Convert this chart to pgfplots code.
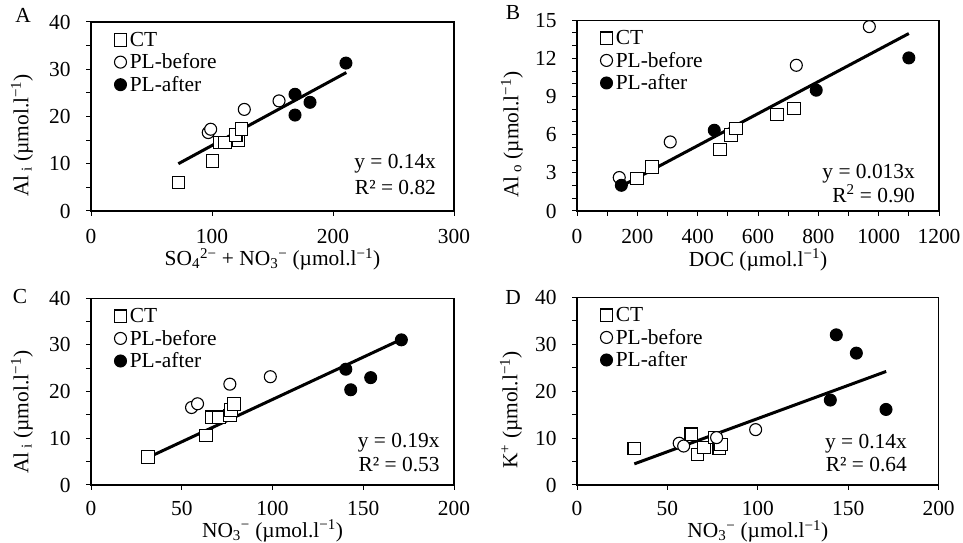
\documentclass[border=0pt]{standalone}
\usepackage{pgfplots}
\pgfplotsset{compat=1.18}
\usepackage{fontspec}
\setmainfont{Liberation Serif}
\newcommand{\fs}{\fontsize{21.5}{22}\selectfont}
\pgfplotsset{
  panel/.style={
    scale only axis, width=363bp, height=189bp,
    axis line style={line width=1.3bp, black},
    every tick/.style={black, line width=1bp},
    tick align=outside, xtick pos=bottom, ytick pos=left,
    major tick length=5bp, minor tick length=5bp,
    tick label style={font=\fs},
    yticklabel style={xshift=-12bp},
    xticklabel style={yshift=-10bp},
    label style={font=\fs},
    /pgf/number format/assume math mode=true,
    /pgf/number format/1000 sep={},
    legend style={draw=none, fill=none, at={(0.0,1.0)}, anchor=north west,
      font=\fs, row sep=2bp, column sep=2bp, inner xsep=23bp, inner ysep=8bp,
      nodes={inner xsep=1bp}},
    legend cell align=left,
    legend image code/.code={\draw[##1,/tikz/only marks] plot coordinates {(0bp,0bp)};},
    clip=false,
  },
  ct/.style={only marks, mark=square*, mark size=6.3bp, mark options={fill=white, draw=black, line width=1.1bp}},
  plb/.style={only marks, mark=*, mark size=6bp, mark options={fill=white, draw=black, line width=1.1bp}},
  pla/.style={only marks, mark=*, mark size=6bp, mark options={fill=black, draw=black, line width=1bp}},
  reg/.style={no marks, black, line width=3bp},
}
\begin{document}
\begin{tikzpicture}[x=1bp,y=1bp]
\useasboundingbox (0,0) rectangle (963,543);
% Panel A
\begin{axis}[panel, at={(91bp,332bp)}, anchor=south west,
  xmin=0, xmax=300, ymin=0, ymax=40, xtick={0,100,200,300},
  ytick={0,10,20,30,40}, minor ytick={5,15,25,35},
  xlabel={SO\textsubscript{4}\textsuperscript{2−} + NO\textsubscript{3}\textsuperscript{−} (µmol.l\textsuperscript{−1})},
  ylabel={Al\,\textsubscript{i} (µmol.l\textsuperscript{−1})},
  xlabel style={at={(axis description cs:0.5,-0.29)}, anchor=base},
  ylabel style={at={(axis description cs:-0.19,0.4)}, anchor=center}]
\addplot[ct] coordinates {(72.2,6.0) (100.5,10.6) (106.6,14.5) (110.7,14.5) (121.7,14.9) (119.6,16.1) (124.5,17.4)};
\addplot[plb] coordinates {(96.9,16.6) (98.9,17.3) (126.7,21.5) (155.4,23.3)};
\addplot[pla] coordinates {(168.6,24.7) (168.6,20.3) (181,23.0) (210.7,31.3)};
\addplot[reg, forget plot] coordinates {(72.2,10.0) (211,29.3)};
\legend{CT,PL-before,PL-after}
\node[anchor=east, font=\fs] at (rel axis cs:0.96,0.249) {y = 0.14x};
\node[anchor=east, font=\fs] at (rel axis cs:0.96,0.122) {R² = 0.82};
\end{axis}
% Panel B
\begin{axis}[panel, at={(577bp,332bp)}, anchor=south west, width=362bp, height=190.7bp,
  xmin=0, xmax=1200, ymin=0, ymax=15, xtick={0,200,...,1200}, minor xtick={100,300,...,1100},
  ytick={0,3,...,15}, minor ytick={1,2,4,5,7,8,10,11,13,14},
  xlabel={DOC (µmol.l\textsuperscript{−1})},
  ylabel={Al\,\textsubscript{o} (µmol.l\textsuperscript{−1})},
  xlabel style={at={(axis description cs:0.5,-0.29)}, anchor=base},
  ylabel style={at={(axis description cs:-0.18,0.4)}, anchor=center}]
\addplot[ct] coordinates {(198.7,2.55) (248.4,3.46) (474.7,4.83) (510,5.96) (526.7,6.48) (662.5,7.58) (719.8,8.06)};
\addplot[plb] coordinates {(140,2.63) (309,5.43) (727,11.46) (969,14.5)};
\addplot[pla] coordinates {(147,2.02) (455,6.35) (793,9.5) (1100,12.04)};
\addplot[reg, forget plot] coordinates {(147,1.95) (1100,13.96)};
\legend{CT,PL-before,PL-after}
\node[anchor=east, font=\fs] at (rel axis cs:0.943,0.196) {y = 0.013x};
\node[anchor=east, font=\fs] at (rel axis cs:0.943,0.091) {R\textsuperscript{2} = 0.90};
\end{axis}
% Panel C
\begin{axis}[panel, at={(91bp,58bp)}, anchor=south west, height=186.7bp,
  xmin=0, xmax=200, ymin=0, ymax=40, xtick={0,50,...,200},
  ytick={0,10,20,30,40}, minor ytick={5,15,25,35},
  xticklabel style={yshift=2bp},
  xlabel={NO\textsubscript{3}\textsuperscript{−} (µmol.l\textsuperscript{−1})},
  ylabel={Al\,\textsubscript{i} (µmol.l\textsuperscript{−1})},
  xlabel style={at={(axis description cs:0.5,-0.28)}, anchor=base},
  ylabel style={at={(axis description cs:-0.19,0.39)}, anchor=center}]
\addplot[ct] coordinates {(31.5,6.0) (63.3,10.6) (66.5,14.5) (70.5,14.5) (76.5,14.9) (77,16.1) (78.9,17.4)};
\addplot[plb] coordinates {(55.4,16.6) (58.7,17.4) (76.5,21.6) (98.8,23.2)};
\addplot[pla] coordinates {(140.4,24.8) (143.1,20.4) (154.1,23.0) (171,31.1)};
\addplot[reg, forget plot] coordinates {(31.5,5.9) (171,31.2)};
\legend{CT,PL-before,PL-after}
\node[anchor=east, font=\fs] at (rel axis cs:0.97,0.229) {y = 0.19x};
\node[anchor=east, font=\fs] at (rel axis cs:0.97,0.111) {R² = 0.53};
\end{axis}
% Panel D
\begin{axis}[panel, at={(577bp,58bp)}, anchor=south west, width=361.6bp, height=187.7bp,
  xmin=0, xmax=200, ymin=0, ymax=40, xtick={0,50,...,200},
  ytick={0,10,20,30,40}, minor ytick={5,15,25,35},
  xticklabel style={yshift=2bp},
  xlabel={NO\textsubscript{3}\textsuperscript{−} (µmol.l\textsuperscript{−1})},
  ylabel={K\textsuperscript{+} (µmol.l\textsuperscript{−1})},
  xlabel style={at={(axis description cs:0.5,-0.28)}, anchor=base},
  ylabel style={at={(axis description cs:-0.183,0.4)}, anchor=center}]
\addplot[ct] coordinates {(31.7,7.8) (63.2,10.8) (66.7,6.5) (70.2,8.0) (76.2,10.1) (78.7,7.9) (79.5,8.6)};
\addplot[plb] coordinates {(56.5,8.9) (59,8.3) (77.2,10.1) (98.8,11.8)};
\addplot[pla] coordinates {(143.4,32.0) (154.5,28.1) (140.1,18.1) (170.9,16.1)};
\addplot[reg, forget plot] coordinates {(31.7,4.5) (171,24.2)};
\legend{CT,PL-before,PL-after}
\node[anchor=east, font=\fs] at (rel axis cs:0.922,0.222) {y = 0.14x};
\node[anchor=east, font=\fs] at (rel axis cs:0.922,0.107) {R² = 0.64};
\end{axis}
\node[font=\fs] at (23bp,528bp) {A};
\node[font=\fs] at (513bp,530bp) {B};
\node[font=\fs] at (20bp,246bp) {C};
\node[font=\fs] at (513bp,245bp) {D};
\end{tikzpicture}
\end{document}
